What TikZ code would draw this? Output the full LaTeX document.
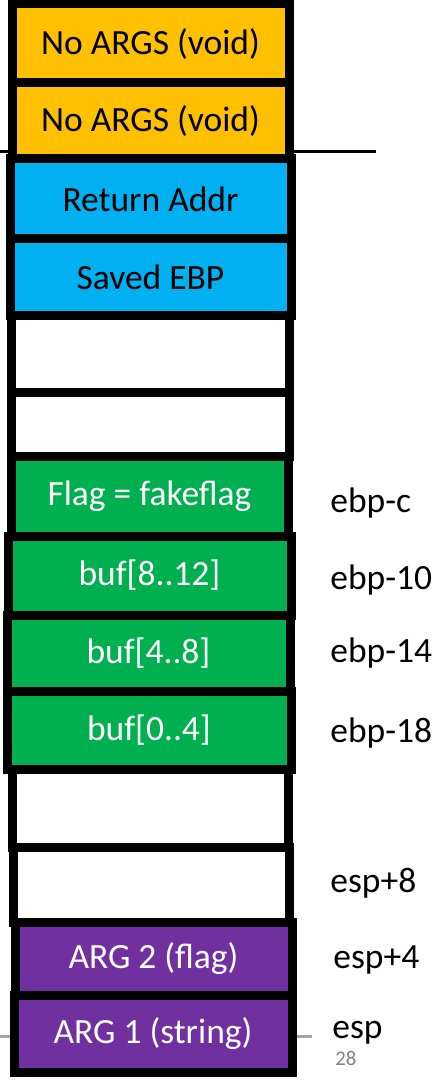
\documentclass[tikz,border=0pt]{standalone}
\usepackage{fontspec}
\setmainfont{Carlito}
\definecolor{argorange}{HTML}{FFC000}
\definecolor{regblue}{HTML}{00B0F0}
\definecolor{localgreen}{HTML}{00B050}
\definecolor{callpurple}{HTML}{7030A0}
\definecolor{rulegray}{HTML}{A6A6A6}

\tikzset{
  slot/.style={draw=black, line width=4.5pt, inner sep=0pt,
    font=\fontsize{17.75}{20}\selectfont},
  addr/.style={anchor=west, inner sep=0pt,
    font=\fontsize{17.75}{20}\selectfont}
}

\begin{document}
\begin{tikzpicture}[x=0.5pt, y=-0.5pt]
  \def\Xl{330};
  \useasboundingbox (0,0) rectangle (444,1080);

  % frame boundary and bottom rule, behind the stack
  \coordinate (fbL) at (0,152);    \coordinate (fbR) at (376,152);
  \coordinate (btL) at (0,1036);   \coordinate (btR) at (312,1036);
  \draw[line width=1.5pt] (fbL) -- (fbR);
  \draw[line width=1.5pt, rulegray] (btL) -- (btR);

  % caller side
  \node[slot, fill=argorange, minimum width=138.5pt, minimum height=39.5pt] (noarg1) at (150.5,43.5) {No ARGS (void)};
  \node[slot, fill=argorange, minimum width=138.5pt, minimum height=38pt]   (noarg2) at (150.5,121)  {No ARGS (void)};
  \node[slot, fill=regblue, minimum width=140.5pt, minimum height=40pt]     (ret)    at (150.5,199)  {Return Addr};
  \node[slot, fill=regblue, minimum width=140.5pt, minimum height=38.5pt]   (sebp)   at (150.5,277.5) {Saved EBP};
  \node[slot, fill=white, minimum width=139pt, minimum height=38pt]         (pad1)   at (150,354)    {};
  \node[slot, fill=white, minimum width=139pt, minimum height=32pt]         (pad2)   at (150,424)    {};

  % locals
  \node[slot, fill=localgreen, text=white, minimum width=138.5pt, minimum height=40pt]   (flag) at (149.5,496)   {Flag = fakeflag};
  \node[slot, fill=localgreen, text=white, minimum width=141.5pt, minimum height=39.5pt] (bufc) at (149.5,575.5) {buf[8..12]};
  \node[slot, fill=localgreen, text=white, minimum width=141.5pt, minimum height=38pt]   (bufb) at (148.5,653)   {buf[4..8]};
  \node[slot, fill=localgreen, text=white, minimum width=142pt, minimum height=39pt]     (bufa) at (149,730)     {buf[0..4]};
  \node[slot, fill=white, minimum width=138pt, minimum height=39pt]   (pad3) at (150,808)   {};
  \node[slot, fill=white, minimum width=138pt, minimum height=37.5pt] (pad4) at (151,884.5) {};

  % outgoing call args
  \node[slot, fill=callpurple, text=white, minimum width=138.5pt, minimum height=36.5pt] (arg2) at (153.5,958.5)  {ARG 2 (flag)};
  \node[slot, fill=callpurple, text=white, minimum width=139pt, minimum height=38.5pt]   (arg1) at (153,1033.5)   {ARG 1 (string)};

  % offsets
  \node[addr] (offc)  at (\Xl,503)  {ebp-c};
  \node[addr] (off10) at (\Xl,580)  {ebp-10};
  \node[addr] (off14) at (\Xl,653)  {ebp-14};
  \node[addr] (off18) at (\Xl,733)  {ebp-18};
  \node[addr] (sp8)   at (\Xl,883)  {esp+8};
  \node[addr] (sp4)   at (333,960)  {esp+4};
  \node[addr] (sp0)   at (332,1033) {esp};
  \node[anchor=west, inner sep=0pt, text=gray, font=\fontsize{10.4}{12}\selectfont] (pgnum) at (335,1058) {28};
\end{tikzpicture}
\end{document}
